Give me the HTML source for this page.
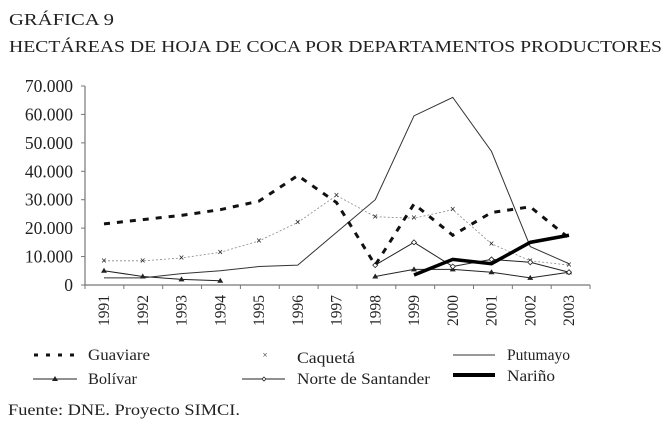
<!DOCTYPE html>
<html><head><meta charset="utf-8"><style>
body{margin:0;background:#fff;width:668px;height:430px;overflow:hidden;font-family:"Liberation Serif",serif;color:#222}
svg text{font-family:"Liberation Serif",serif;fill:#222}
</style></head><body>
<svg width="668" height="430">
<text x="9" y="25" font-size="17" textLength="105" lengthAdjust="spacingAndGlyphs">GRÁFICA 9</text>
<text x="9" y="52" font-size="17" textLength="653" lengthAdjust="spacingAndGlyphs">HECTÁREAS DE HOJA DE COCA POR DEPARTAMENTOS PRODUCTORES</text>
<g id="plot"></g>
<g>
<g><line x1="34" y1="355" x2="78" y2="355" stroke="#111" stroke-width="3" stroke-dasharray="4,8"/><text x="88" y="360" font-size="16" textLength="62" lengthAdjust="spacingAndGlyphs">Guaviare</text></g>
<g><text x="265" y="358" font-size="9" text-anchor="middle">×</text><text x="297" y="363" font-size="16" textLength="58" lengthAdjust="spacingAndGlyphs">Caquetá</text></g>
<g><line x1="453" y1="355" x2="495" y2="355" stroke="#333" stroke-width="1"/><text x="507" y="360" font-size="16" textLength="63" lengthAdjust="spacingAndGlyphs">Putumayo</text></g>
<g><line x1="33" y1="379" x2="77" y2="379" stroke="#222" stroke-width="1"/><path d="M55,376 L58,381 L52,381Z" fill="#222"/><text x="88" y="384" font-size="16" textLength="49" lengthAdjust="spacingAndGlyphs">Bolívar</text></g>
<g><line x1="242" y1="379" x2="285" y2="379" stroke="#222" stroke-width="1"/><path d="M264,377 L266,379 L264,381 L262,379Z" fill="#fff" stroke="#222" stroke-width="0.8"/><text x="297" y="384" font-size="16" textLength="133" lengthAdjust="spacingAndGlyphs">Norte de Santander</text></g>
<g><line x1="453" y1="375" x2="495" y2="375" stroke="#000" stroke-width="4"/><text x="507" y="381" font-size="16" textLength="48" lengthAdjust="spacingAndGlyphs">Nariño</text></g>
</g>
<text x="8" y="415" font-size="16" textLength="232" lengthAdjust="spacingAndGlyphs">Fuente: DNE. Proyecto SIMCI.</text>
</svg>
<script>
const years=[1991,1992,1993,1994,1995,1996,1997,1998,1999,2000,2001,2002,2003];
const yTicks=[0,10000,20000,30000,40000,50000,60000,70000];
const yTickLabels=["0","10.000","20.000","30.000","40.000","50.000","60.000","70.000"];
const guaviare=[21500,23000,24500,26500,29500,38500,29000,7000,28500,17500,25500,27500,16500];
const caqueta=[8500,8500,9500,11500,15500,22000,31500,24000,23500,26500,14500,8500,7000];
const putumayo=[2500,2500,4000,5000,6500,7000,18500,30000,59500,66000,47000,13500,7500];
const bolivar=[5000,3000,2000,1500,null,null,null,3000,5500,5500,4500,2500,4500];
const norte=[null,null,null,null,null,null,null,7000,15000,6500,9000,8000,4500];
const narino=[null,null,null,null,null,null,null,null,3500,9000,7500,15000,17500];

const NS="http://www.w3.org/2000/svg";
const plot=document.getElementById('plot');
const x0=85,x1=590,y0=285,yTop=86;
const xs=i=>104+i*38.75;
const ys=v=>y0-(v/70000)*(y0-yTop);
function el(tag,attrs,parent){const e=document.createElementNS(NS,tag);for(const k in attrs)e.setAttribute(k,attrs[k]);(parent||plot).appendChild(e);return e;}

const ax=el('path',{d:`M${x0},${yTop} L${x0},${y0} L${x1},${y0}`,fill:'none',stroke:'#777','stroke-width':1.2});


yTicks.forEach((t,i)=>{
  const y=ys(t);
  const tk=el('line',{x1:x0-4,y1:y,x2:x0,y2:y,stroke:'#777'});
  
  
  const tx=el('text',{x:x0-12,y:y+6,'font-size':17.5,'text-anchor':'end'});
  tx.textContent=yTickLabels[i];
  
  
});
for(let i=0;i<=years.length;i++){
  const x=x0+i*38.85;
  const tk=el('line',{x1:x,y1:y0,x2:x,y2:y0+4,stroke:'#777'});
  
  
}
years.forEach((yr,i)=>{
  const x=xs(i);
  const tx=el('text',{x:0,y:0,'font-size':15.5,'text-anchor':'end',transform:`translate(${x+5},${y0+10}) rotate(-90)`});
  tx.textContent=yr;
  
  
});

function segs(vals){const out=[];let cur=[];vals.forEach((v,i)=>{if(v==null){if(cur.length)out.push(cur);cur=[];}else cur.push([xs(i),ys(v)]);});if(cur.length)out.push(cur);return out;}
function series(vals,name,style,marker){
  const g=el('g',{});
  
  
  segs(vals).forEach(s=>{
    if(s.length>1){const p=el('polyline',Object.assign({points:s.map(p=>p.join(',')).join(' '),fill:'none'},style),g);
    
    }
  });
  vals.forEach((v,i)=>{if(v==null||!marker)return;const x=xs(i),y=ys(v);let m;
    if(marker==='tri')m=el('path',{d:`M${x},${y-3} L${x+3},${y+2} L${x-3},${y+2}Z`,fill:'#222'},g);
    else if(marker==='dia')m=el('path',{d:`M${x},${y-2.5} L${x+2.5},${y} L${x},${y+2.5} L${x-2.5},${y}Z`,fill:'#fff',stroke:'#222','stroke-width':0.8},g);
    else {m=el('text',{x:x,y:y+3,'font-size':10,'font-weight':'bold','text-anchor':'middle'},g);m.textContent='×';}
    
    
  });
}
series(putumayo,'series-putumayo',{stroke:'#333','stroke-width':1});
series(caqueta,'series-caqueta',{stroke:'#888','stroke-width':0.8,'stroke-dasharray':'2,2'},'x');
series(bolivar,'series-bolivar',{stroke:'#222','stroke-width':1},'tri');
series(norte,'series-norte-de-santander',{stroke:'#222','stroke-width':1},'dia');
series(guaviare,'series-guaviare',{stroke:'#111','stroke-width':3,'stroke-dasharray':'6,7'});
series(narino,'series-narino',{stroke:'#000','stroke-width':3.5});
</script>
</body></html>
